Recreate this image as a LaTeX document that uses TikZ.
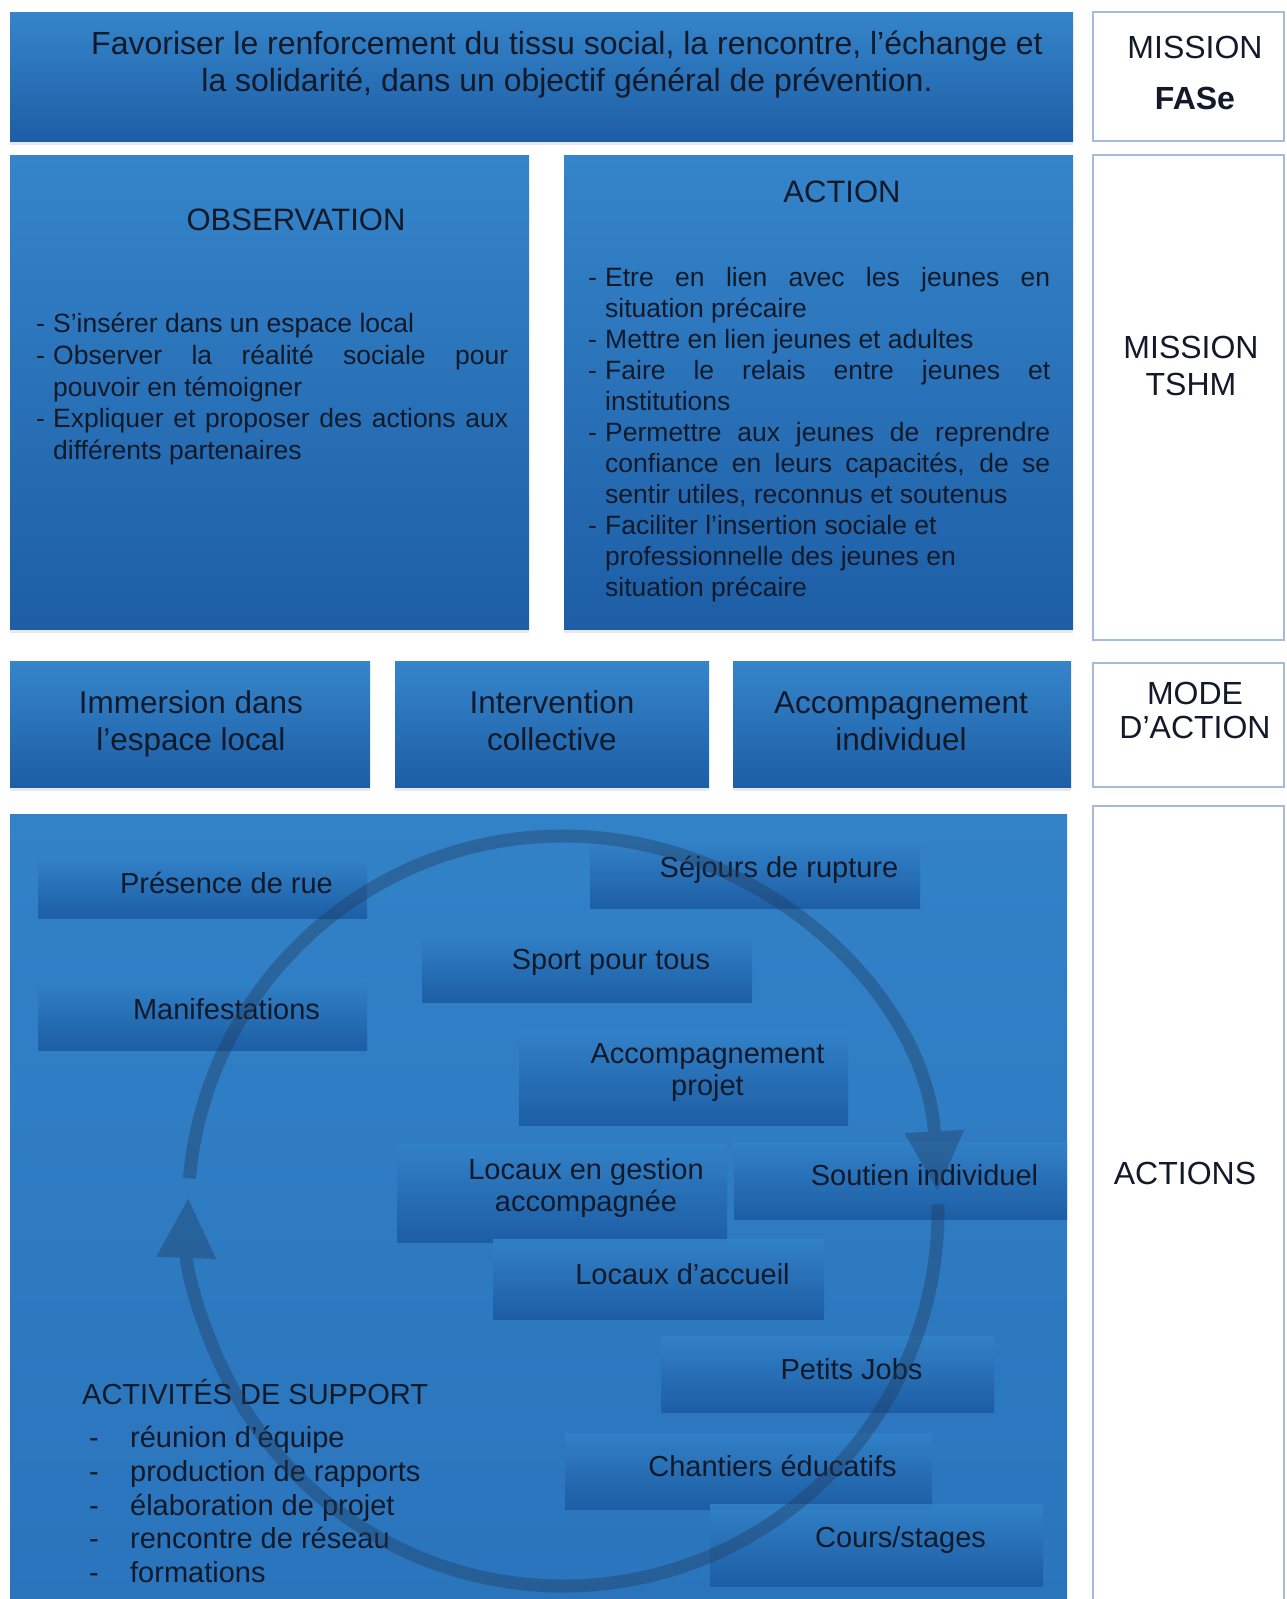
\documentclass[tikz,border=0pt]{standalone}
\usepackage{fontspec}
\setmainfont{Liberation Sans}
\usepackage{xcolor}
\usetikzlibrary{arrows.meta,shadows}

\definecolor{bluetop}{HTML}{3585CA}
\definecolor{bluebot}{HTML}{1D5EA6}
\definecolor{bgtop}{HTML}{3282C8}
\definecolor{bgbot}{HTML}{2A74BC}
\definecolor{boxdark}{HTML}{1C5BA2}
\definecolor{ink}{HTML}{121A2A}
\definecolor{frameline}{HTML}{A3BCDC}
\definecolor{ringcol}{HTML}{203A5A}

\newcommand{\tiret}{\par\noindent\hangindent=17pt\hangafter=1\makebox[17pt][l]{-}}

\tikzset{
  bluebox/.style={rectangle,inner sep=0pt,top color=bluetop,bottom color=bluebot,
    drop shadow={opacity=0.18,shadow xshift=0pt,shadow yshift=-4pt}},
  sidebox/.style={rectangle,inner sep=0pt,draw=frameline,line width=1.6pt,fill=white},
  actbox/.style={rectangle,inner sep=0pt,top color=bgtop,bottom color=boxdark,fill opacity=0.9},
  sidetext/.style={text=ink,align=center,font=\fontsize{32}{37}\selectfont},
  boxtext/.style={text=ink,align=center,font=\fontsize{31.5}{37}\selectfont},
  listtext/.style={text=ink,align=justify,inner sep=0pt,anchor=north west,font=\fontsize{26.5}{31}\selectfont},
  acttext/.style={text=ink,align=center,xshift=24pt,yshift=5pt,font=\fontsize{29}{32.5}\selectfont},
  cyclearrow/.style={line width=13pt,draw=ringcol,-{Triangle[width=56pt,length=60pt]}}
}

\begin{document}
\begin{tikzpicture}[x=1pt,y=-1pt]
  \useasboundingbox (0,0) rectangle (1286,1599);

  % mission FASe
  \node[bluebox,minimum width=1063pt,minimum height=129pt] (fase) at (541.5,76.5) {};
  \node[boxtext,font=\fontsize{32}{37}\selectfont] at (567,65) {Favoriser le renforcement du tissu social, la rencontre, l'échange et\\la solidarité, dans un objectif général de prévention.};

  % observation / action
  \node[bluebox,minimum width=519pt,minimum height=474pt] (obs) at (269.5,392) {};
  \node[bluebox,minimum width=509pt,minimum height=474pt] (act) at (818.5,392) {};
  \node[boxtext,font=\fontsize{31}{37}\selectfont] at (296,220) {OBSERVATION};
  \node[boxtext,font=\fontsize{31}{37}\selectfont] at (842,192) {ACTION};
  \node[listtext,text width=472pt,font=\fontsize{26.5}{31.6}\selectfont] at (36,301) {%
    \tiret S'insérer dans un espace local
    \tiret Observer la réalité sociale pour\linebreak pouvoir en témoigner
    \tiret Expliquer et proposer des actions aux\linebreak différents partenaires\par};
  \node[listtext,text width=462pt] at (588,255) {%
    \tiret Etre en lien avec les jeunes en\linebreak situation précaire
    \tiret Mettre en lien jeunes et adultes
    \tiret Faire le relais entre jeunes et\linebreak institutions
    \tiret Permettre aux jeunes de reprendre\linebreak confiance en leurs capacités, de se\linebreak sentir utiles, reconnus et soutenus
    \tiret Faciliter l'insertion sociale et\newline professionnelle des jeunes en\newline situation précaire\par};

  % modes d'action
  \node[bluebox,minimum width=360pt,minimum height=126pt] (immersion) at (190,724) {};
  \node[bluebox,minimum width=314pt,minimum height=126pt] (collective) at (552,724) {};
  \node[bluebox,minimum width=338pt,minimum height=126pt] (individuel) at (902,724) {};
  \node[boxtext] at (191,724) {Immersion dans\\l'espace local};
  \node[boxtext] at (552,721) {Intervention\\collective};
  \node[boxtext] at (901,721) {Accompagnement\\individuel};

  % actions
  \node[bluebox,top color=bgtop,bottom color=bgbot,minimum width=1057pt,minimum height=796pt] (actions) at (538.5,1212) {};

  \node[actbox,minimum width=329pt,minimum height=61pt] (rue) at (202.5,887.5) {};
  \node[actbox,minimum width=330pt,minimum height=67pt] (sejours) at (755,874.5) {};
  \node[actbox,minimum width=330pt,minimum height=69pt] (sport) at (587,967.5) {};
  \node[actbox,minimum width=329pt,minimum height=71pt] (manif) at (202.5,1014.5) {};
  \node[actbox,minimum width=329pt,minimum height=95pt] (projet) at (683.5,1077.5) {};
  \node[actbox,minimum width=330pt,minimum height=98pt] (gestion) at (562,1193) {};
  \node[actbox,minimum width=333pt,minimum height=77pt] (soutien) at (900.5,1180.5) {};
  \node[actbox,minimum width=331pt,minimum height=80pt] (accueil) at (658.5,1279) {};
  \node[actbox,minimum width=333pt,minimum height=76pt] (jobs) at (827.5,1374) {};
  \node[actbox,minimum width=367pt,minimum height=76pt] (chantiers) at (748.5,1471) {};
  \node[actbox,minimum width=333pt,minimum height=82pt] (cours) at (876.5,1545) {};

  \node[acttext] at (rue) {Présence de rue};
  \node[acttext] at (sejours) {Séjours de rupture};
  \node[acttext] at (sport) {Sport pour tous};
  \node[acttext] at (manif) {Manifestations};
  \node[acttext] at (projet) {Accompagnement\\projet};
  \node[acttext] at (gestion) {Locaux en gestion\\accompagnée};
  \node[acttext] at (soutien) {Soutien individuel};
  \node[acttext] at (accueil) {Locaux d'accueil};
  \node[acttext] at (jobs) {Petits Jobs};
  \node[acttext] at (chantiers) {Chantiers éducatifs};
  \node[acttext] at (cours) {Cours/stages};

  \node[text=ink,anchor=west,inner sep=0pt,font=\fontsize{29}{33.7}\selectfont] (support) at (82,1392) {ACTIVITÉS DE SUPPORT};
  \node[text=ink,anchor=north west,inner sep=0pt,font=\fontsize{29}{33.7}\selectfont] (supportlist) at (89,1424) {%
    \begin{tabular}{@{}p{41pt}@{}l@{}}
      - & réunion d'équipe\\
      - & production de rapports\\
      - & élaboration de projet\\
      - & rencontre de réseau\\
      - & formations
    \end{tabular}};

  \coordinate (ring) at (563,1211);
  \begin{scope}[transparency group,opacity=0.38]
    \draw[cyclearrow] ([shift={(175:375pt)}]ring) arc[start angle=175,end angle=3,radius=375pt];
    \draw[cyclearrow] ([shift={(1:375pt)}]ring) arc[start angle=1,end angle=-182,radius=375pt];
  \end{scope}

  % side labels
  \node[sidebox,minimum width=191pt,minimum height=129pt] (labfase) at (1188.5,76.5) {};
  \node[sidebox,minimum width=191pt,minimum height=485pt] (labtshm) at (1188.5,397.5) {};
  \node[sidebox,minimum width=191pt,minimum height=124pt] (labmode) at (1188.5,725) {};
  \node[sidebox,minimum width=191pt,minimum height=814pt] (labactions) at (1188.5,1213) {};
  \node[sidetext,font=\fontsize{32}{51}\selectfont] at (1195,72.5) {MISSION\\\textbf{FASe}};
  \node[sidetext] at (1191,366) {MISSION\\TSHM};
  \node[sidetext,font=\fontsize{32}{34}\selectfont] at (1195,710) {MODE\\D'ACTION};
  \node[sidetext] at (1185,1173) {ACTIONS};
\end{tikzpicture}
\end{document}
